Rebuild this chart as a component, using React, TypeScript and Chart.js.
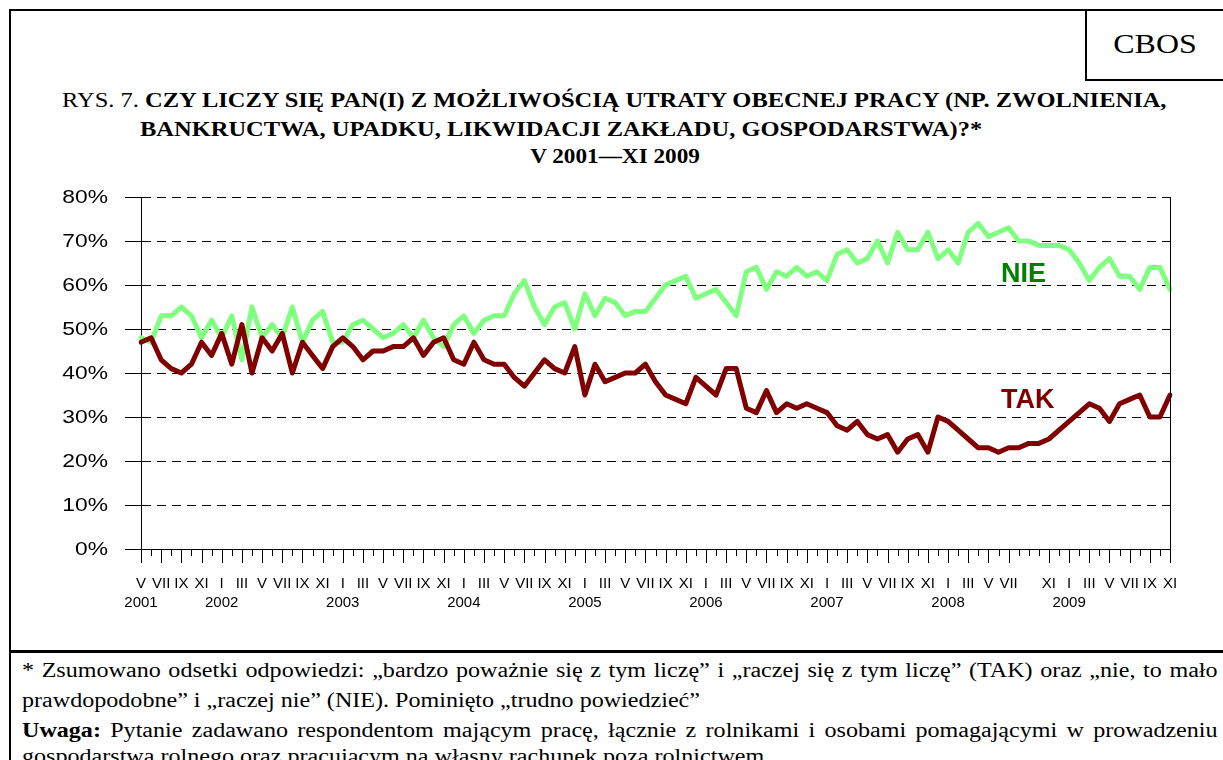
import React, { useEffect, useRef } from 'react';
import { Chart, registerables } from 'chart.js';

Chart.register(...registerables);

// Monthly survey waves, V 2001 – XI 2009
const categories = [
  '2001-05', '2001-06', '2001-07', '2001-08', '2001-09', '2001-10', '2001-11', '2001-12',
  '2002-01', '2002-02', '2002-03', '2002-04', '2002-05', '2002-06', '2002-07', '2002-08', '2002-09', '2002-10', '2002-11', '2002-12',
  '2003-01', '2003-02', '2003-03', '2003-04', '2003-05', '2003-06', '2003-07', '2003-08', '2003-09', '2003-10', '2003-11', '2003-12',
  '2004-01', '2004-02', '2004-03', '2004-04', '2004-05', '2004-06', '2004-07', '2004-08', '2004-09', '2004-10', '2004-11', '2004-12',
  '2005-01', '2005-02', '2005-03', '2005-04', '2005-05', '2005-06', '2005-07', '2005-08', '2005-09', '2005-10', '2005-11', '2005-12',
  '2006-01', '2006-02', '2006-03', '2006-04', '2006-05', '2006-06', '2006-07', '2006-08', '2006-09', '2006-10', '2006-11', '2006-12',
  '2007-01', '2007-02', '2007-03', '2007-04', '2007-05', '2007-06', '2007-07', '2007-08', '2007-09', '2007-10', '2007-11', '2007-12',
  '2008-01', '2008-02', '2008-03', '2008-04', '2008-05', '2008-06', '2008-07', '2008-08', '2008-09', '2008-10', '2008-11', '2008-12',
  '2009-01', '2009-02', '2009-03', '2009-04', '2009-05', '2009-06', '2009-07', '2009-08', '2009-09', '2009-10', '2009-11',
];

const monthTickLabels = [
  'V', '', 'VII', '', 'IX', '', 'XI', '',
  'I', '', 'III', '', 'V', '', 'VII', '', 'IX', '', 'XI', '',
  'I', '', 'III', '', 'V', '', 'VII', '', 'IX', '', 'XI', '',
  'I', '', 'III', '', 'V', '', 'VII', '', 'IX', '', 'XI', '',
  'I', '', 'III', '', 'V', '', 'VII', '', 'IX', '', 'XI', '',
  'I', '', 'III', '', 'V', '', 'VII', '', 'IX', '', 'XI', '',
  'I', '', 'III', '', 'V', '', 'VII', '', 'IX', '', 'XI', '',
  'I', '', 'III', '', 'V', '', 'VII', '', '', '', 'XI', '',
  'I', '', 'III', '', 'V', '', 'VII', '', 'IX', '', 'XI',
];

const yearLabels = ['2001', '2002', '2003', '2004', '2005', '2006', '2007', '2008', '2009'];
const yearLabelCategories = ['2001-05', '2002-01', '2003-01', '2004-01', '2005-01', '2006-01', '2007-01', '2008-01', '2009-01'];

const takValues = [
  47, 48, 43, 41, 40, 42, 47, 44,
  49, 42, 51, 40, 48, 45, 49, 40, 47, 44, 41, 46,
  48, 46, 43, 45, 45, 46, 46, 48, 44, 47, 48, 43,
  42, 47, 43, 42, 42, 39, 37, 40, 43, 41, 40, 46,
  35, 42, 38, 39, 40, 40, 42, 38, 35, 34, 33, 39,
  37, 35, 41, 41, 32, 31, 36, 31, 33, 32, 33, 32,
  31, 28, 27, 29, 26, 25, 26, 22, 25, 26, 22, 30,
  29, 27, 25, 23, 23, 22, 23, 23, 24, 24, 25, 27,
  29, 31, 33, 32, 29, 33, 34, 35, 30, 30, 35,
];

const nieValues = [
  48, 47, 53, 53, 55, 53, 48, 52,
  48, 53, 43, 55, 48, 51, 48, 55, 47, 52, 54, 47,
  47, 51, 52, 50, 48, 49, 51, 48, 52, 48, 46, 51,
  53, 49, 52, 53, 53, 58, 61, 55, 51, 55, 56, 50,
  58, 53, 57, 56, 53, 54, 54, 57, 60, 61, 62, 57,
  58, 59, 56, 53, 63, 64, 59, 63, 62, 64, 62, 63,
  61, 67, 68, 65, 66, 70, 65, 72, 68, 68, 72, 66,
  68, 65, 72, 74, 71, 72, 73, 70, 70, 69, 69, 69,
  68, 65, 61, 64, 66, 62, 62, 59, 64, 64, 59,
];

const yTickValues = [0, 10, 20, 30, 40, 50, 60, 70, 80];

const SANS = '"Liberation Sans", Arial, sans-serif';
const SERIF = '"Liberation Serif", "Times New Roman", serif';

const axisPlugin = {
  id: 'cbosAxis',
  afterDraw(chart: any) {
    const { ctx, chartArea } = chart;
    const x = chart.scales.x;
    const y = chart.scales.y;
    const bottom = Math.round(chartArea.bottom);
    ctx.save();
    ctx.strokeStyle = '#000';
    ctx.lineWidth = 1;
    ctx.beginPath();
    categories.forEach((_c, i) => {
      const px = Math.round(x.getPixelForValue(i)) + 0.5;
      const len = monthTickLabels[i] ? 14 : 7;
      ctx.moveTo(px, bottom);
      ctx.lineTo(px, bottom + len);
    });
    const rx = Math.round(chartArea.right) + 0.5;
    ctx.moveTo(rx, chartArea.top);
    ctx.lineTo(rx, bottom + 14);
    ctx.stroke();

    ctx.fillStyle = '#000';
    ctx.font = `15px ${SANS}`;
    ctx.textAlign = 'center';
    ctx.textBaseline = 'alphabetic';
    monthTickLabels.forEach((l, i) => {
      if (l) ctx.fillText(l, x.getPixelForValue(i), bottom + 39);
    });
    yearLabels.forEach((yl, k) => {
      const i = categories.indexOf(yearLabelCategories[k]);
      ctx.fillText(yl, x.getPixelForValue(i), bottom + 58);
    });

    // y tick labels (slightly wide, as in the source scan)
    ctx.font = `19px ${SANS}`;
    ctx.textAlign = 'right';
    ctx.textBaseline = 'middle';
    yTickValues.forEach((v) => {
      const py = y.getPixelForValue(v);
      ctx.save();
      ctx.translate(chartArea.left - 33, py + 1);
      ctx.scale(1.2, 1);
      ctx.fillText(`${v}%`, 0, 0);
      ctx.restore();
    });
    ctx.restore();
  },
};

function ChartBlock() {
  const ref = useRef<HTMLCanvasElement | null>(null);
  useEffect(() => {
    if (!ref.current) return;
    const chart = new Chart(ref.current, {
      type: 'line',
      data: {
        labels: categories,
        datasets: [
          {
            label: 'TAK',
            data: takValues,
            borderColor: '#800000',
            backgroundColor: '#800000',
            borderWidth: 5,
            pointRadius: 0,
            tension: 0,
            borderJoinStyle: 'round',
            borderCapStyle: 'round',
          },
          {
            label: 'NIE',
            data: nieValues,
            borderColor: '#80FF80',
            backgroundColor: '#80FF80',
            borderWidth: 5,
            pointRadius: 0,
            tension: 0,
            borderJoinStyle: 'round',
            borderCapStyle: 'round',
          },
        ],
      },
      options: {
        responsive: false,
        animation: false,
        devicePixelRatio: 1,
        layout: { padding: { top: 27, right: 53, left: 0, bottom: 0 } },
        plugins: {
          legend: { display: false },
          tooltip: { enabled: false },
          title: { display: false },
        },
        scales: {
          x: {
            type: 'category',
            offset: false,
            grid: { display: false, drawTicks: false },
            ticks: { display: false },
            border: { display: true, color: '#000', width: 1 },
            afterFit: (s: any) => {
              s.height = 91;
            },
          },
          y: {
            min: yTickValues[0],
            max: yTickValues[yTickValues.length - 1],
            ticks: {
              stepSize: yTickValues[1] - yTickValues[0],
              display: false,
            },
            grid: { color: '#000', lineWidth: 1, tickLength: 16, tickColor: '#000', drawTicks: true },
            border: { display: true, color: '#000', width: 1, dash: [9, 6] },
            afterFit: (s: any) => {
              s.width = 141;
            },
          },
        },
      } as any,
      plugins: [axisPlugin],
    });
    return () => chart.destroy();
  }, []);
  return <canvas ref={ref} width={1223} height={470} style={{ display: 'block' }} />;
}

const wide = (sx: number, origin = 'left top'): React.CSSProperties => ({
  transform: `scaleX(${sx})`,
  transformOrigin: origin,
});

export default function App() {
  const page: React.CSSProperties = {
    position: 'absolute',
    left: 0,
    top: 0,
    width: 1223,
    height: 760,
    overflow: 'hidden',
    background: '#fff',
    fontFamily: SERIF,
    color: '#000',
  };
  const FS = 20;
  const FX = 1.204;
  return (
    <div style={page}>
      {/* outer frame */}
      <div style={{ position: 'absolute', left: 9, top: 9, width: 1300, height: 900, border: '2px solid #000', boxSizing: 'border-box' }} />
      {/* CBOS box */}
      <div style={{ position: 'absolute', left: 1085, top: 9, width: 200, height: 72, borderLeft: '2px solid #000', borderBottom: '2px solid #000', boxSizing: 'border-box' }} />
      <div style={{ position: 'absolute', left: 1087, top: 28, width: 136, textAlign: 'center', fontSize: 28, lineHeight: '32px', ...wide(1.14, 'center top') }}>CBOS</div>

      {/* title */}
      <div style={{ position: 'absolute', left: 62, top: 88, fontSize: FS, lineHeight: '24px', whiteSpace: 'nowrap', ...wide(1.224) }}>
        RYS. 7. <b>CZY LICZY SIĘ PAN(I) Z MOŻLIWOŚCIĄ UTRATY OBECNEJ PRACY (NP. ZWOLNIENIA,</b>
      </div>
      <div style={{ position: 'absolute', left: 140, top: 117, fontSize: FS, lineHeight: '24px', whiteSpace: 'nowrap', fontWeight: 'bold', ...wide(1.224) }}>
        BANKRUCTWA, UPADKU, LIKWIDACJI ZAKŁADU, GOSPODARSTWA)?*
      </div>
      <div style={{ position: 'absolute', left: 415, width: 400, top: 144, fontSize: FS, lineHeight: '24px', textAlign: 'center', fontWeight: 'bold', whiteSpace: 'nowrap', ...wide(1.16, 'center top') }}>
        V 2001—XI 2009
      </div>

      {/* chart */}
      <div style={{ position: 'absolute', left: 0, top: 170, width: 1223, height: 470 }}>
        <ChartBlock />
      </div>

      {/* series labels */}
      <div style={{ position: 'absolute', left: 1001, top: 257, fontFamily: SANS, fontWeight: 'bold', fontSize: 27, color: '#008000', lineHeight: '32px' }}>NIE</div>
      <div style={{ position: 'absolute', left: 1001, top: 383, fontFamily: SANS, fontWeight: 'bold', fontSize: 27, color: '#800000', lineHeight: '32px' }}>TAK</div>

      {/* footer separator */}
      <div style={{ position: 'absolute', left: 9, top: 650, width: 1230, height: 3, background: '#000' }} />

      {/* footer */}
      <div style={{ position: 'absolute', left: 22, top: 655, width: Math.floor(1196 / FX), fontSize: FS, lineHeight: '30px', ...wide(FX) }}>
        <div style={{ textAlign: 'justify', textAlignLast: 'justify', whiteSpace: 'nowrap' as any }}>
          * Zsumowano odsetki odpowiedzi: „bardzo poważnie się z tym liczę” i „raczej się z tym liczę” (TAK) oraz „nie, to mało
        </div>
        <div style={{ whiteSpace: 'nowrap' as any }}>prawdopodobne” i „raczej nie” (NIE). Pominięto „trudno powiedzieć”</div>
        <div style={{ textAlign: 'justify', textAlignLast: 'justify', whiteSpace: 'nowrap' as any }}>
          <b>Uwaga:</b> Pytanie zadawano respondentom mającym pracę, łącznie z rolnikami i osobami pomagającymi w prowadzeniu
        </div>
        <div style={{ marginTop: -4, whiteSpace: 'nowrap' as any }}>gospodarstwa rolnego oraz pracującym na własny rachunek poza rolnictwem</div>
      </div>
    </div>
  );
}
